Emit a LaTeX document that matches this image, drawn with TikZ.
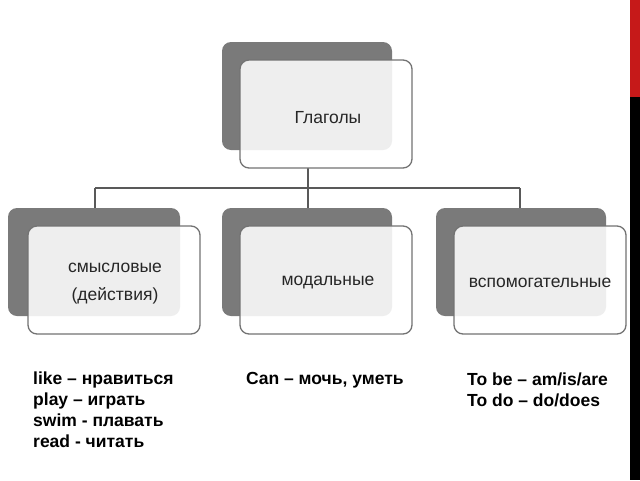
\documentclass[tikz,border=0pt]{standalone}
\usepackage{fontspec}
\setmainfont{Liberation Sans}
\begin{document}
\begin{tikzpicture}[x=1pt,y=-1pt,
 back/.style={fill=black!52,rounded corners=9pt},
 front/.style={draw=black!55,line width=1.3pt,fill=white,fill opacity=0.88,rounded corners=9pt},
 lbl/.style={font=\fontsize{17.5}{22}\selectfont,align=center,text=black!85},
 ex/.style={font=\bfseries\fontsize{17.5}{21}\selectfont,align=left,anchor=north west,inner sep=0pt},
 con/.style={draw=black!65,line width=1.3pt}]
\fill[white] (0,0) rectangle (640,480);
\fill[red!75!black!90] (630,0) rectangle (640,97);
\fill[black] (630,97) rectangle (640,480);
\useasboundingbox (0,0) rectangle (640,480);
% connectors
\coordinate (h) at (308,188);
\coordinate (hl) at (95,188);
\coordinate (hr) at (520,188);
\coordinate (dl) at (95,208);
\coordinate (dm) at (308,208);
\coordinate (dr) at (520,208);
\coordinate (top) at (308,168);
\draw[con] (top) -- (h);
\draw[con] (hl) -- (hr);
\draw[con] (hl) -- (dl);
\draw[con] (h) -- (dm);
\draw[con] (hr) -- (dr);
% boxes
\fill[back] (222,42) rectangle (392,150);
\draw[front] (240,60) rectangle (412,168);
\fill[back] (8,208) rectangle (180,316);
\draw[front] (28,226) rectangle (200,334);
\fill[back] (222,208) rectangle (392,316);
\draw[front] (240,226) rectangle (412,334);
\fill[back] (436,208) rectangle (606,316);
\draw[front] (454,226) rectangle (626,334);
\node[lbl] (g) at (328,118) {Глаголы};
\node[lbl,font=\fontsize{17.5}{28}\selectfont] (s) at (115,284) {смысловые\\(действия)};
\node[lbl] (m) at (328,283) {модальные};
\node[lbl] (v) at (540,283) {вспомогательные};
\node[ex] (e1) at (33,372) {like – нравиться\\play – играть\\swim - плавать\\read - читать};
\node[ex] (e2) at (246,372) {Can – мочь, уметь};
\node[ex] (e3) at (467,373) {To be – am/is/are\\To do – do/does};
\end{tikzpicture}
\end{document}
